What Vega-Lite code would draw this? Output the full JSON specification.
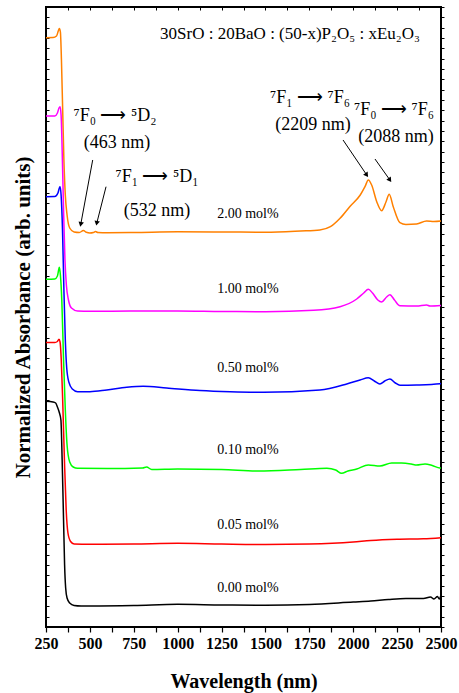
{
  "$schema": "https://vega.github.io/schema/vega-lite/v6.json",
  "width": 395,
  "height": 620,
  "autosize": {"type": "none"},
  "padding": {"left": 46, "top": 7, "right": 18, "bottom": 66},
  "background": "white",
  "view": {"stroke": "black", "strokeWidth": 2},
  "config": {"font": "Liberation Serif"},
  "datasets": {
    "spectra": [
      {"s":"2.00","nm":250,"a":28.515},{"s":"2.00","nm":290,"a":28.525},{"s":"2.00","nm":310,"a":28.597},{"s":"2.00","nm":320,"a":28.839},{"s":"2.00","nm":326,"a":28.96},{"s":"2.00","nm":332,"a":28.79},{"s":"2.00","nm":338,"a":27.435},{"s":"2.00","nm":345,"a":25.016},{"s":"2.00","nm":352,"a":22.597},{"s":"2.00","nm":360,"a":20.903},{"s":"2.00","nm":370,"a":19.935},{"s":"2.00","nm":385,"a":19.306},{"s":"2.00","nm":410,"a":19.113},{"s":"2.00","nm":440,"a":19.089},{"s":"2.00","nm":463,"a":19.185},{"s":"2.00","nm":480,"a":19.098},{"s":"2.00","nm":500,"a":19.065},{"s":"2.00","nm":520,"a":19.089},{"s":"2.00","nm":532,"a":19.137},{"s":"2.00","nm":545,"a":19.089},{"s":"2.00","nm":600,"a":19.079},{"s":"2.00","nm":750,"a":19.089},{"s":"2.00","nm":1000,"a":19.123},{"s":"2.00","nm":1250,"a":19.113},{"s":"2.00","nm":1500,"a":19.103},{"s":"2.00","nm":1700,"a":19.161},{"s":"2.00","nm":1810,"a":19.21},{"s":"2.00","nm":1870,"a":19.369},{"s":"2.00","nm":1925,"a":19.776},{"s":"2.00","nm":1980,"a":20.337},{"s":"2.00","nm":2040,"a":20.903},{"s":"2.00","nm":2067,"a":21.305},{"s":"2.00","nm":2086,"a":21.629},{"s":"2.00","nm":2105,"a":21.387},{"s":"2.00","nm":2134,"a":20.579},{"s":"2.00","nm":2162,"a":20.143},{"s":"2.00","nm":2187,"a":20.579},{"s":"2.00","nm":2205,"a":20.937},{"s":"2.00","nm":2228,"a":20.337},{"s":"2.00","nm":2266,"a":19.563},{"s":"2.00","nm":2300,"a":19.476},{"s":"2.00","nm":2361,"a":19.5},{"s":"2.00","nm":2418,"a":19.645},{"s":"2.00","nm":2460,"a":19.621},{"s":"2.00","nm":2500,"a":19.645},
      {"s":"1.00","nm":250,"a":24.726},{"s":"1.00","nm":300,"a":24.726},{"s":"1.00","nm":315,"a":24.871},{"s":"1.00","nm":324,"a":25.113},{"s":"1.00","nm":330,"a":25.176},{"s":"1.00","nm":336,"a":24.774},{"s":"1.00","nm":342,"a":23.081},{"s":"1.00","nm":350,"a":20.177},{"s":"1.00","nm":358,"a":17.758},{"s":"1.00","nm":366,"a":16.548},{"s":"1.00","nm":378,"a":15.823},{"s":"1.00","nm":395,"a":15.435},{"s":"1.00","nm":430,"a":15.29},{"s":"1.00","nm":500,"a":15.275},{"s":"1.00","nm":750,"a":15.29},{"s":"1.00","nm":1000,"a":15.29},{"s":"1.00","nm":1250,"a":15.266},{"s":"1.00","nm":1500,"a":15.256},{"s":"1.00","nm":1775,"a":15.324},{"s":"1.00","nm":1925,"a":15.498},{"s":"1.00","nm":2020,"a":15.871},{"s":"1.00","nm":2060,"a":16.161},{"s":"1.00","nm":2086,"a":16.34},{"s":"1.00","nm":2110,"a":16.161},{"s":"1.00","nm":2140,"a":15.823},{"s":"1.00","nm":2162,"a":15.726},{"s":"1.00","nm":2190,"a":15.968},{"s":"1.00","nm":2209,"a":16.079},{"s":"1.00","nm":2235,"a":15.823},{"s":"1.00","nm":2266,"a":15.547},{"s":"1.00","nm":2361,"a":15.532},{"s":"1.00","nm":2418,"a":15.581},{"s":"1.00","nm":2437,"a":15.532},{"s":"1.00","nm":2500,"a":15.556},
      {"s":"0.50","nm":250,"a":20.821},{"s":"0.50","nm":300,"a":20.831},{"s":"0.50","nm":318,"a":21.0},{"s":"0.50","nm":326,"a":21.242},{"s":"0.50","nm":330,"a":21.305},{"s":"0.50","nm":336,"a":20.903},{"s":"0.50","nm":344,"a":19.21},{"s":"0.50","nm":352,"a":16.306},{"s":"0.50","nm":360,"a":13.887},{"s":"0.50","nm":368,"a":12.532},{"s":"0.50","nm":380,"a":11.855},{"s":"0.50","nm":400,"a":11.516},{"s":"0.50","nm":430,"a":11.385},{"s":"0.50","nm":500,"a":11.385},{"s":"0.50","nm":596,"a":11.468},{"s":"0.50","nm":710,"a":11.598},{"s":"0.50","nm":804,"a":11.647},{"s":"0.50","nm":937,"a":11.565},{"s":"0.50","nm":1127,"a":11.444},{"s":"0.50","nm":1300,"a":11.385},{"s":"0.50","nm":1490,"a":11.356},{"s":"0.50","nm":1810,"a":11.468},{"s":"0.50","nm":1963,"a":11.758},{"s":"0.50","nm":2039,"a":11.952},{"s":"0.50","nm":2086,"a":12.063},{"s":"0.50","nm":2120,"a":11.903},{"s":"0.50","nm":2152,"a":11.758},{"s":"0.50","nm":2180,"a":11.903},{"s":"0.50","nm":2209,"a":12.0},{"s":"0.50","nm":2240,"a":11.806},{"s":"0.50","nm":2266,"a":11.695},{"s":"0.50","nm":2361,"a":11.71},{"s":"0.50","nm":2494,"a":11.773},{"s":"0.50","nm":2500,"a":11.782},
      {"s":"0.10","nm":250,"a":16.824},{"s":"0.10","nm":300,"a":16.839},{"s":"0.10","nm":315,"a":16.984},{"s":"0.10","nm":322,"a":17.274},{"s":"0.10","nm":326,"a":17.405},{"s":"0.10","nm":332,"a":17.032},{"s":"0.10","nm":340,"a":15.823},{"s":"0.10","nm":350,"a":12.919},{"s":"0.10","nm":360,"a":10.5},{"s":"0.10","nm":370,"a":8.806},{"s":"0.10","nm":385,"a":7.984},{"s":"0.10","nm":405,"a":7.742},{"s":"0.10","nm":430,"a":7.679},{"s":"0.10","nm":600,"a":7.669},{"s":"0.10","nm":800,"a":7.694},{"s":"0.10","nm":823,"a":7.742},{"s":"0.10","nm":852,"a":7.621},{"s":"0.10","nm":1000,"a":7.645},{"s":"0.10","nm":1250,"a":7.621},{"s":"0.10","nm":1460,"a":7.548},{"s":"0.10","nm":1700,"a":7.621},{"s":"0.10","nm":1850,"a":7.679},{"s":"0.10","nm":1900,"a":7.597},{"s":"0.10","nm":1934,"a":7.437},{"s":"0.10","nm":1970,"a":7.548},{"s":"0.10","nm":2020,"a":7.645},{"s":"0.10","nm":2086,"a":7.839},{"s":"0.10","nm":2152,"a":7.79},{"s":"0.10","nm":2219,"a":7.935},{"s":"0.10","nm":2276,"a":7.935},{"s":"0.10","nm":2330,"a":7.887},{"s":"0.10","nm":2361,"a":7.839},{"s":"0.10","nm":2409,"a":7.887},{"s":"0.10","nm":2450,"a":7.815},{"s":"0.10","nm":2494,"a":7.694},{"s":"0.10","nm":2500,"a":7.694},
      {"s":"0.05","nm":250,"a":13.766},{"s":"0.05","nm":300,"a":13.766},{"s":"0.05","nm":315,"a":13.814},{"s":"0.05","nm":324,"a":13.921},{"s":"0.05","nm":330,"a":13.79},{"s":"0.05","nm":337,"a":12.919},{"s":"0.05","nm":345,"a":10.984},{"s":"0.05","nm":355,"a":8.081},{"s":"0.05","nm":365,"a":5.661},{"s":"0.05","nm":375,"a":4.548},{"s":"0.05","nm":390,"a":4.137},{"s":"0.05","nm":410,"a":4.016},{"s":"0.05","nm":500,"a":4.002},{"s":"0.05","nm":750,"a":4.016},{"s":"0.05","nm":1000,"a":4.05},{"s":"0.05","nm":1250,"a":4.016},{"s":"0.05","nm":1500,"a":3.992},{"s":"0.05","nm":1750,"a":4.016},{"s":"0.05","nm":2000,"a":4.113},{"s":"0.05","nm":2100,"a":4.185},{"s":"0.05","nm":2250,"a":4.244},{"s":"0.05","nm":2400,"a":4.268},{"s":"0.05","nm":2500,"a":4.321},
      {"s":"0.00","nm":250,"a":10.919},{"s":"0.00","nm":290,"a":10.887},{"s":"0.00","nm":305,"a":10.839},{"s":"0.00","nm":315,"a":10.645},{"s":"0.00","nm":325,"a":10.403},{"s":"0.00","nm":335,"a":10.016},{"s":"0.00","nm":342,"a":8.081},{"s":"0.00","nm":350,"a":5.177},{"s":"0.00","nm":356,"a":3.0},{"s":"0.00","nm":362,"a":1.887},{"s":"0.00","nm":370,"a":1.403},{"s":"0.00","nm":385,"a":1.161},{"s":"0.00","nm":410,"a":1.04},{"s":"0.00","nm":450,"a":1.016},{"s":"0.00","nm":500,"a":1.016},{"s":"0.00","nm":750,"a":1.04},{"s":"0.00","nm":1000,"a":1.098},{"s":"0.00","nm":1250,"a":1.065},{"s":"0.00","nm":1500,"a":1.05},{"s":"0.00","nm":1750,"a":1.089},{"s":"0.00","nm":2000,"a":1.21},{"s":"0.00","nm":2100,"a":1.258},{"s":"0.00","nm":2200,"a":1.331},{"s":"0.00","nm":2300,"a":1.379},{"s":"0.00","nm":2400,"a":1.379},{"s":"0.00","nm":2440,"a":1.452},{"s":"0.00","nm":2460,"a":1.355},{"s":"0.00","nm":2480,"a":1.476},{"s":"0.00","nm":2490,"a":1.355},{"s":"0.00","nm":2500,"a":1.548}
    ],
    "conc": [
      {"text":"2.00 mol%","nm":1400,"a":19.984},
      {"text":"1.00 mol%","nm":1400,"a":16.355},
      {"text":"0.50 mol%","nm":1400,"a":12.532},
      {"text":"0.10 mol%","nm":1400,"a":8.565},
      {"text":"0.05 mol%","nm":1400,"a":4.935},
      {"text":"0.00 mol%","nm":1400,"a":1.887}
    ],
    "ann": [
      {"text":"⁷F₀ ⟶ ⁵D₂","nm":643,"a":24.726},
      {"text":"(463 nm)","nm":654,"a":23.419},
      {"text":"⁷F₁ ⟶ ⁵D₁","nm":882,"a":21.774},
      {"text":"(532 nm)","nm":882,"a":20.145},
      {"text":"⁷F₁ ⟶ ⁷F₆","nm":1754,"a":25.597},
      {"text":"(2209 nm)","nm":1771,"a":24.29},
      {"text":"⁷F₀ ⟶ ⁷F₆","nm":2232,"a":25.016},
      {"text":"(2088 nm)","nm":2244,"a":23.71}
    ],
    "title": [
      {"text":"30SrO : 20BaO : (50-x)P₂O₅ : xEu₂O₃","nm":1640,"a":28.7}
    ],
    "arrows": [
      {"side":"L","nm":516,"a":22.597,"nm2":448,"a2":19.485},
      {"side":"L","nm":592,"a":21.305,"nm2":539,"a2":19.534},
      {"side":"R","nm":1942,"a":23.565,"nm2":2077,"a2":21.871},
      {"side":"R","nm":2124,"a":22.645,"nm2":2209,"a2":21.629}
    ]
  },
  "resolve": {"axis": {"x": "independent", "y": "independent"}},
  "layer": [
    {
      "data": {"name": "spectra"},
      "mark": {"type": "line", "strokeWidth": 1.5, "interpolate": "monotone"},
      "encoding": {
        "x": {"field": "nm", "type": "quantitative",
          "scale": {"domain": [250, 2500], "nice": false, "zero": false},
          "axis": {"orient": "bottom", "title": "Wavelength (nm)",
            "values": [250,375,500,625,750,875,1000,1125,1250,1375,1500,1625,1750,1875,2000,2125,2250,2375,2500],
            "labelExpr": "datum.value % 250 == 0 ? datum.label : ''",
            "format": "d", "grid": false, "domain": false, "ticks": true, "tickSize": 5, "tickColor": "black", "tickWidth": 1.2,
            "labelFont": "Liberation Serif", "labelFontWeight": "bold", "labelFontSize": 16, "labelColor": "black",
            "labelPadding": 3, "labelOverlap": false, "labelFlush": false,
            "titleFont": "Liberation Serif", "titleFontWeight": "bold", "titleFontSize": 20, "titleColor": "black", "titlePadding": 20}},
        "y": {"field": "a", "type": "quantitative",
          "scale": {"domain": [0, 30], "nice": false, "zero": false},
          "axis": {"orient": "left", "title": "Normalized Absorbance (arb. units)", "labels": false,
            "values": [0,0.5,1,1.5,2,2.5,3,3.5,4,4.5,5,5.5,6,6.5,7,7.5,8,8.5,9,9.5,10,10.5,11,11.5,12,12.5,13,13.5,14,14.5,15,15.5,16,16.5,17,17.5,18,18.5,19,19.5,20,20.5,21,21.5,22,22.5,23,23.5,24,24.5,25,25.5,26,26.5,27,27.5,28,28.5,29,29.5,30],
            "grid": false, "domain": false, "tickSize": -3, "tickColor": "black",
            "titleFont": "Liberation Serif", "titleFontWeight": "bold", "titleFontSize": 21, "titleColor": "black", "titlePadding": 12}},
        "color": {"field": "s", "type": "nominal",
          "scale": {"domain": ["0.00","0.05","0.10","0.50","1.00","2.00"], "range": ["#000000","#FF0000","#00FF00","#0000FF","#FF00FF","#FF8000"]},
          "legend": null}
      }
    },
    {
      "data": {"name": "conc"},
      "mark": {"type": "text", "font": "Liberation Serif", "fontSize": 14, "color": "black", "align": "center", "baseline": "middle"},
      "encoding": {
        "x": {"field": "nm", "type": "quantitative",
          "axis": {"orient": "top", "title": null, "labels": false, "grid": false, "domain": false,
            "values": [250,375,500,625,750,875,1000,1125,1250,1375,1500,1625,1750,1875,2000,2125,2250,2375,2500],
            "tickSize": -3, "tickColor": "black"}},
        "y": {"field": "a", "type": "quantitative",
          "axis": {"orient": "right", "title": null, "labels": false, "grid": false, "domain": false,
            "values": [0,0.5,1,1.5,2,2.5,3,3.5,4,4.5,5,5.5,6,6.5,7,7.5,8,8.5,9,9.5,10,10.5,11,11.5,12,12.5,13,13.5,14,14.5,15,15.5,16,16.5,17,17.5,18,18.5,19,19.5,20,20.5,21,21.5,22,22.5,23,23.5,24,24.5,25,25.5,26,26.5,27,27.5,28,28.5,29,29.5,30],
            "tickSize": 3, "tickColor": "black"}},
        "text": {"field": "text"}
      }
    },
    {
      "data": {"name": "ann"},
      "mark": {"type": "text", "font": "Liberation Serif", "fontSize": 18, "color": "black", "align": "center", "baseline": "middle"},
      "encoding": {
        "x": {"field": "nm", "type": "quantitative", "axis": null},
        "y": {"field": "a", "type": "quantitative", "axis": null},
        "text": {"field": "text"}
      }
    },
    {
      "data": {"name": "title"},
      "mark": {"type": "text", "font": "Liberation Serif", "fontSize": 17, "color": "black", "align": "center", "baseline": "middle"},
      "encoding": {
        "x": {"field": "nm", "type": "quantitative", "axis": null},
        "y": {"field": "a", "type": "quantitative", "axis": null},
        "text": {"field": "text"}
      }
    },
    {
      "data": {"name": "arrows"},
      "mark": {"type": "rule", "color": "black", "strokeWidth": 1},
      "encoding": {
        "x": {"field": "nm", "type": "quantitative", "axis": null},
        "y": {"field": "a", "type": "quantitative", "axis": null},
        "x2": {"field": "nm2"},
        "y2": {"field": "a2"}
      }
    },
    {
      "data": {"name": "arrows"},
      "transform": [{"filter": "datum.side == 'L'"}],
      "mark": {"type": "point", "shape": "triangle-up", "filled": true, "color": "black", "opacity": 1, "size": 30, "angle": 192},
      "encoding": {
        "x": {"field": "nm2", "type": "quantitative", "axis": null},
        "y": {"field": "a2", "type": "quantitative", "axis": null}
      }
    },
    {
      "data": {"name": "arrows"},
      "transform": [{"filter": "datum.side == 'R'"}],
      "mark": {"type": "point", "shape": "triangle-up", "filled": true, "color": "black", "opacity": 1, "size": 30, "angle": 145},
      "encoding": {
        "x": {"field": "nm2", "type": "quantitative", "axis": null},
        "y": {"field": "a2", "type": "quantitative", "axis": null}
      }
    }
  ]
}
